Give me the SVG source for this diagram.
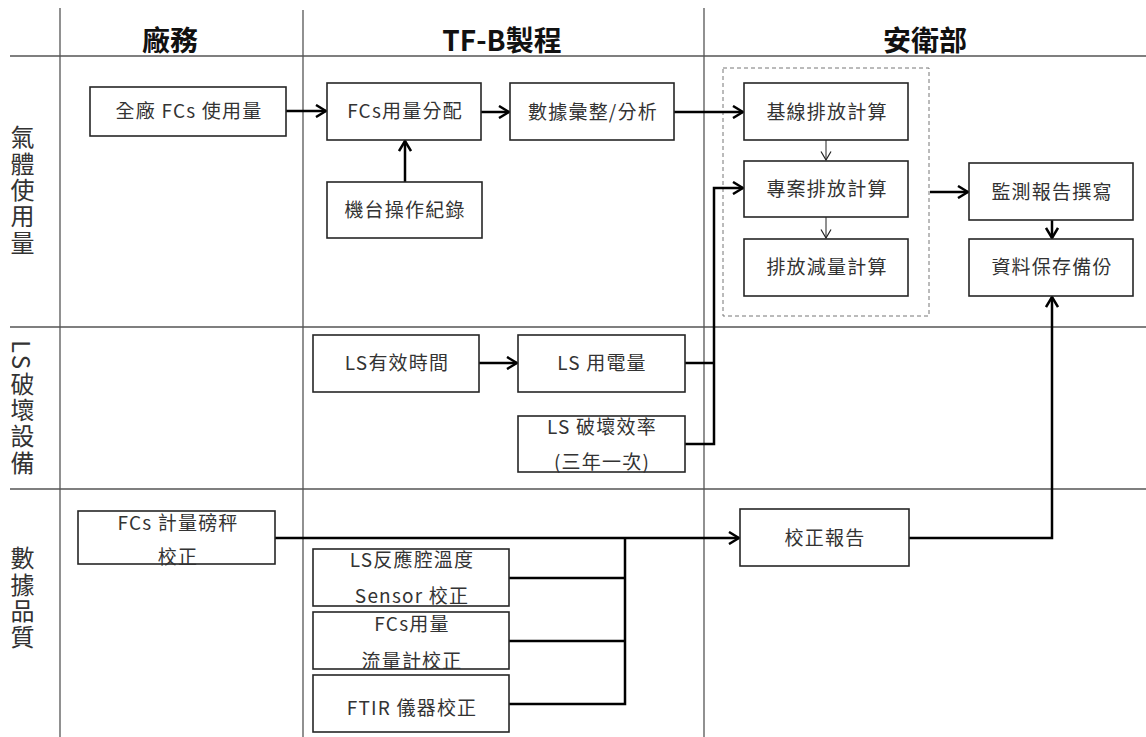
<svg xmlns="http://www.w3.org/2000/svg" width="1146" height="737" viewBox="0 0 1146 737">
<style>
.grid{stroke:#555;stroke-width:1.3;fill:none}
.box{fill:#fff;stroke:#262626;stroke-width:1.6}
.t{font-family:"Noto Sans CJK TC","Noto Sans",sans-serif;font-size:19px;letter-spacing:1.2px;fill:#333;text-anchor:middle}
.h{font-family:"Noto Sans CJK TC","Noto Sans",sans-serif;font-size:28px;font-weight:bold;fill:#111;text-anchor:middle}
.r{font-family:"Noto Sans CJK TC","Noto Sans",sans-serif;font-size:24px;fill:#333;writing-mode:vertical-rl;text-orientation:mixed;letter-spacing:2.4px}
.c{stroke:#000;stroke-width:2.5;fill:none}
.ct{stroke:#222;stroke-width:1;fill:none}
</style>
<defs>
<marker id="ah" viewBox="0 0 12 14" refX="11" refY="7" markerWidth="12" markerHeight="14" markerUnits="userSpaceOnUse" orient="auto">
<path d="M1,1 L11,7 L1,13" fill="none" stroke="#000" stroke-width="2.5"/>
</marker>
<marker id="aht" viewBox="0 0 10 12" refX="9.5" refY="6" markerWidth="10" markerHeight="12" markerUnits="userSpaceOnUse" orient="auto">
<path d="M1,1 L9.5,6 L1,11" fill="none" stroke="#222" stroke-width="1.2"/>
</marker>
</defs>
<rect x="0" y="0" width="1146" height="737" fill="#fff"/>
<g id="grid">
<line class="grid" x1="60" y1="8" x2="60" y2="737"/>
<line class="grid" x1="303" y1="10" x2="303" y2="737"/>
<line class="grid" x1="704" y1="8" x2="704" y2="737"/>
<line class="grid" x1="10" y1="56" x2="1146" y2="56"/>
<line class="grid" x1="10" y1="327" x2="1146" y2="327"/>
<line class="grid" x1="10" y1="489" x2="1146" y2="489"/>
</g>
<g id="headers">
<text class="h" x="170" y="51">廠務</text>
<text class="h" x="502" y="51">TF-B製程</text>
<text class="h" x="925" y="51">安衛部</text>
</g>
<g id="row-labels">
<text class="r" x="22.5" y="125">氣體使用量</text>
<text class="r" x="22.5" y="340">LS破壞設備</text>
<text class="r" x="22.5" y="546">數據品質</text>
</g>
<rect x="723" y="68" width="206" height="248" fill="none" stroke="#777" stroke-width="1" stroke-dasharray="4 3"/>
<g id="connectors">
<line class="c" x1="286" y1="111" x2="326" y2="111" marker-end="url(#ah)"/>
<line class="c" x1="405" y1="182" x2="405" y2="141" marker-end="url(#ah)"/>
<line class="c" x1="481" y1="112" x2="509" y2="112" marker-end="url(#ah)"/>
<line class="c" x1="674" y1="112" x2="743" y2="112" marker-end="url(#ah)"/>
<line class="ct" x1="826" y1="140" x2="826" y2="160" marker-end="url(#aht)"/>
<line class="ct" x1="826" y1="217" x2="826" y2="238" marker-end="url(#aht)"/>
<line class="c" x1="930" y1="192" x2="968" y2="192" marker-end="url(#ah)"/>
<line class="c" x1="1052" y1="220" x2="1052" y2="238" marker-end="url(#ah)"/>
<line class="c" x1="479" y1="363" x2="517" y2="363" marker-end="url(#ah)"/>
<polyline class="c" points="685,363 714,363"/>
<polyline class="c" points="685,444 714,444 714,188 743,188" marker-end="url(#ah)"/>
<line class="c" x1="275" y1="538" x2="739" y2="538" marker-end="url(#ah)"/>
<polyline class="c" points="509,578 625,578"/>
<polyline class="c" points="509,641 625,641"/>
<polyline class="c" points="509,704 625,704 625,538"/>
<polyline class="c" points="909,538 1052,538 1052,297" marker-end="url(#ah)"/>
</g>
<g id="n-plant-fcs"><rect class="box" x="90" y="87" width="196" height="49"/><text class="t" x="189" y="118">全廠 FCs 使用量</text></g>
<g id="n-fcs-alloc"><rect class="box" x="327" y="83" width="154" height="57"/><text class="t" x="405" y="118">FCs用量分配</text></g>
<g id="n-machine-log"><rect class="box" x="327" y="182" width="155" height="56"/><text class="t" x="405" y="217">機台操作紀錄</text></g>
<g id="n-data-analysis"><rect class="box" x="510" y="83" width="164" height="57"/><text class="t" x="593" y="119">數據彙整/分析</text></g>
<g id="n-baseline"><rect class="box" x="744" y="83" width="164" height="57"/><text class="t" x="827" y="119">基線排放計算</text></g>
<g id="n-project"><rect class="box" x="744" y="161" width="164" height="56"/><text class="t" x="827" y="196">專案排放計算</text></g>
<g id="n-reduction"><rect class="box" x="744" y="239" width="164" height="57"/><text class="t" x="827" y="274">排放減量計算</text></g>
<g id="n-report"><rect class="box" x="969" y="163" width="164" height="57"/><text class="t" x="1052" y="199">監測報告撰寫</text></g>
<g id="n-backup"><rect class="box" x="969" y="239" width="164" height="57"/><text class="t" x="1052" y="274">資料保存備份</text></g>
<g id="n-ls-time"><rect class="box" x="313" y="335" width="166" height="57"/><text class="t" x="397" y="370">LS有效時間</text></g>
<g id="n-ls-power"><rect class="box" x="518" y="335" width="167" height="57"/><text class="t" x="602" y="370">LS 用電量</text></g>
<g id="n-ls-eff"><rect class="box" x="518" y="416" width="167" height="56"/><text class="t" x="602" y="434">LS 破壞效率</text><text class="t" x="602" y="469">(三年一次)</text></g>
<g id="n-scale"><rect class="box" x="78" y="511" width="197" height="53"/><text class="t" x="178" y="530">FCs 計量磅秤</text><text class="t" x="178" y="564">校正</text></g>
<g id="n-sensor"><rect class="box" x="313" y="549" width="196" height="57"/><text class="t" x="412" y="567">LS反應腔溫度</text><text class="t" x="412" y="603">Sensor 校正</text></g>
<g id="n-flowmeter"><rect class="box" x="313" y="612" width="196" height="57"/><text class="t" x="412" y="631">FCs用量</text><text class="t" x="412" y="668">流量計校正</text></g>
<g id="n-ftir"><rect class="box" x="313" y="675" width="196" height="57"/><text class="t" x="412" y="715">FTIR 儀器校正</text></g>
<g id="n-calib-report"><rect class="box" x="740" y="509" width="169" height="57"/><text class="t" x="825" y="545">校正報告</text></g>
</svg>
